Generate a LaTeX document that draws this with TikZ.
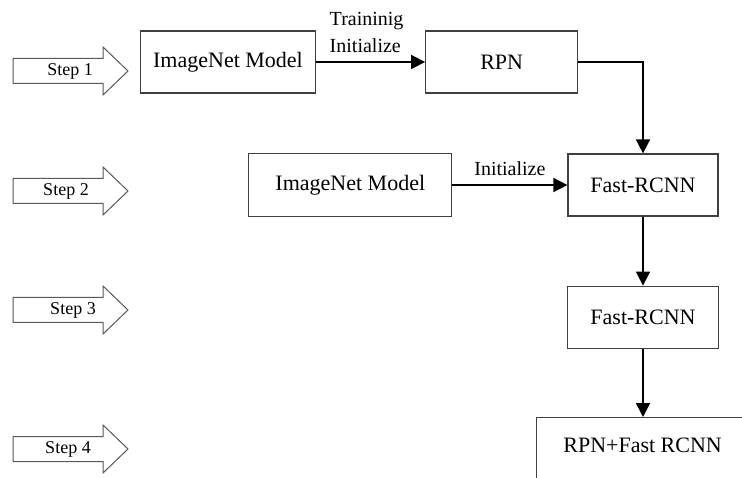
\documentclass[tikz,border=0pt]{standalone}
\usepackage{fontspec}
\setmainfont{Liberation Serif}
\usetikzlibrary{arrows.meta,positioning}

\begin{document}
\begin{tikzpicture}[
    x=1pt, y=-1pt,
    >={Triangle[length=14pt,width=14pt]},
    block/.style={draw=black!75, line width=1.2pt, rectangle,
        minimum height=62pt, inner sep=0pt,
        font=\fontsize{22}{26}\selectfont},
    steplbl/.style={font=\fontsize{18}{22}\selectfont, inner sep=0pt},
    steparrow/.style={draw=black!65, line width=1pt, fill=white},
    edgelbl/.style={font=\fontsize{20}{27}\selectfont, inner sep=2pt, yshift=7pt},
    flow/.style={->, line width=1.6pt}
]
\useasboundingbox (0,0) rectangle (742,478);
\clip (0,0) rectangle (742,478);
\foreach \i/\y/\x in {1/71/70,2/191/66,3/310/73,4/449/68} {
    \draw[steparrow] (13,\y-12.5) -- (103,\y-12.5) -- (103,\y-24) -- (128,\y)
        -- (103,\y+24) -- (103,\y+12.5) -- (13,\y+12.5) -- cycle;
    \node[steplbl] (S\i) at (\x,\y) {Step \i};
}
\node[block, minimum width=175pt] (M1) at (228,62) {ImageNet Model};
\node[block, minimum width=152pt, right=109pt of M1] (R1) {RPN};
\node[block, minimum width=150pt] (F1) at (643,185) {Fast-RCNN};
\node[block, minimum width=203pt, minimum height=63pt, left=115pt of F1] (M2) {ImageNet Model};
\node[block, minimum width=151pt, below=69pt of F1] (F2) {Fast-RCNN};
\node[block, anchor=north west, minimum width=212pt, text height=29pt,
    text depth=40pt, inner ysep=6pt] (F3) at (536,417) {RPN+Fast RCNN};
\draw[flow] (M1) -- (R1) node[edgelbl, midway, above, align=left, xshift=-4pt] (L1) {Traininig\\Initialize};
\draw[flow] (R1.east) -| (F1.north);
\draw[flow] (M2) -- (F1) node[edgelbl, midway, above] (L2) {Initialize};
\draw[flow] (F1) -- (F2);
\draw[flow] (F2.south) -- (F2.south |- F3.north);
\end{tikzpicture}
\end{document}
